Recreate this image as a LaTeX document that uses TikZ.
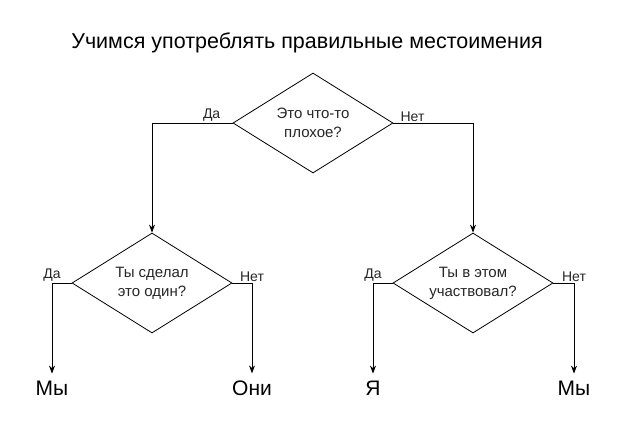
\documentclass[tikz,border=0pt]{standalone}
\usepackage{fontspec}
\setmainfont{Liberation Sans}
\usetikzlibrary{shapes.geometric,arrows.meta}
\begin{document}
\begin{tikzpicture}[x=1pt,y=-1pt,>={Stealth[length=8pt,width=6pt]}]

      \useasboundingbox (0,0) rectangle (619,432);

      \node (title) at (307,43) {\fontsize{21.5}{26}\selectfont Учимся употреблять правильные местоимения};

      \begin{scope}[every node/.style={diamond,draw,line width=.8pt,inner sep=0pt,
          shape aspect=1.6,minimum width=160pt,minimum height=100pt,align=center,
          font=\fontsize{15}{19}\selectfont,text=black!85}]
        \node (q1) at (313,123) {Это что-то\\плохое?};
        \node (q2) at (152,283) {Ты сделал\\это один?};
        \node (q3) at (473,283) {Ты в этом\\участвовал?};
      \end{scope}

      \begin{scope}[every node/.style={inner sep=7pt,font=\fontsize{21}{25}\selectfont}]
        \node (a1) at (52,388)  {Мы};
        \node (a2) at (252,388) {Они};
        \node (a3) at (373,388) {Я};
        \node (a4) at (574,388) {Мы};
      \end{scope}

      \begin{scope}[every node/.style={above,inner sep=1pt,text=black!85,
          font=\fontsize{14}{17}\selectfont}]
        \draw[->,line width=.8pt] (q1.west) -| node[pos=.13] {Да}  (q2.north);
        \draw[->,line width=.8pt] (q1.east) -| node[pos=.12] {Нет} (q3.north);
        \draw[->,line width=.8pt] (q2.west) -| node[pos=.5]  {Да}  (a1.north);
        \draw[->,line width=.8pt] (q2.east) -| node[pos=.5]  {Нет} (a2.north);
        \draw[->,line width=.8pt] (q3.west) -| node[pos=.5]  {Да}  (a3.north);
        \draw[->,line width=.8pt] (q3.east) -| node[pos=.5]  {Нет} (a4.north);
      \end{scope}

    \end{tikzpicture}
\end{document}
